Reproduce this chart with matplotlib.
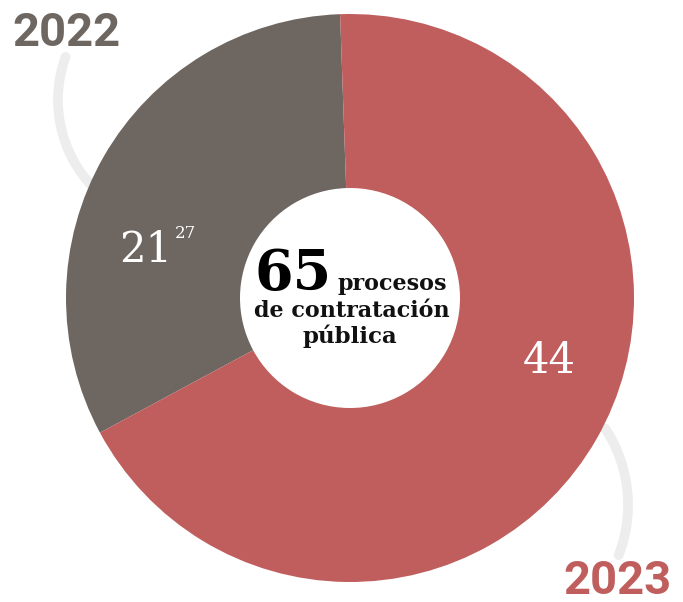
import numpy as np
import matplotlib
matplotlib.use("Agg")
import matplotlib.pyplot as plt

# Contract procedures per year
years = ["2022", "2023"]
counts = [21, 44]
total = sum(counts)
colors = ["#6e6661", "#c05e5e"]
footnote = "27"
center_title = "procesos"
center_lines = ["de contratación", "pública"]

W, H = 683, 602
fig = plt.figure(figsize=(W / 100, H / 100), dpi=100)
ax = fig.add_axes([0, 0, 1, 1])

cx, cy, r_out, r_in = 350, 304, 284, 110

# Light leader arcs next to the year labels
def arc(xc, yc, R, a0, a1, lw):
    t = np.radians(np.linspace(a0, a1, 80))
    ax.plot(xc + R * np.cos(t), yc + R * np.sin(t), color="#ededed",
            lw=lw, solid_capstyle="round", zorder=1)

arc(184, H - 100, 126, 160, 229, 7)
arc(488, H - 505, 140, 33, -21, 7)

wedges, _ = ax.pie(counts, colors=colors, startangle=92, counterclock=True,
                   center=(cx, cy), radius=r_out,
                   wedgeprops=dict(width=r_out - r_in, edgecolor="none"))
for w in wedges:
    w.set_zorder(2)

ax.set_xlim(0, W)
ax.set_ylim(0, H)
ax.set_aspect("equal")
ax.axis("off")

serif = "DejaVu Serif"
sans = "Roboto"

ax.text(12, H - 33, years[0], fontsize=34, fontweight="bold", family=sans,
        color=colors[0], ha="left", va="center", zorder=3)
ax.text(672, H - 581, years[1], fontsize=34, fontweight="bold", family=sans,
        color=colors[1], ha="right", va="center", zorder=3)

ax.text(172, H - 262, str(counts[0]), fontsize=30, family=serif,
        color="white", ha="right", va="baseline", zorder=3)
ax.text(175, H - 238, footnote, fontsize=12, family=serif,
        color="white", ha="left", va="baseline", zorder=3)
ax.text(549, H - 373, str(counts[1]), fontsize=30, family=serif,
        color="white", ha="center", va="baseline", zorder=3)

ax.text(332, H - 290, str(total), fontsize=40, fontweight="bold", family=serif,
        color="black", ha="right", va="baseline", zorder=3)
ax.text(338, H - 290, center_title, fontsize=16, fontweight="bold", family=serif,
        color="#111111", ha="left", va="baseline", zorder=3)
ax.text(352, H - 317, center_lines[0], fontsize=16, fontweight="bold", family=serif,
        color="#111111", ha="center", va="baseline", zorder=3)
ax.text(350, H - 343, center_lines[1], fontsize=16.5, fontweight="bold", family=serif,
        color="#111111", ha="center", va="baseline", zorder=3)

fig.savefig("out.png", dpi=100)
